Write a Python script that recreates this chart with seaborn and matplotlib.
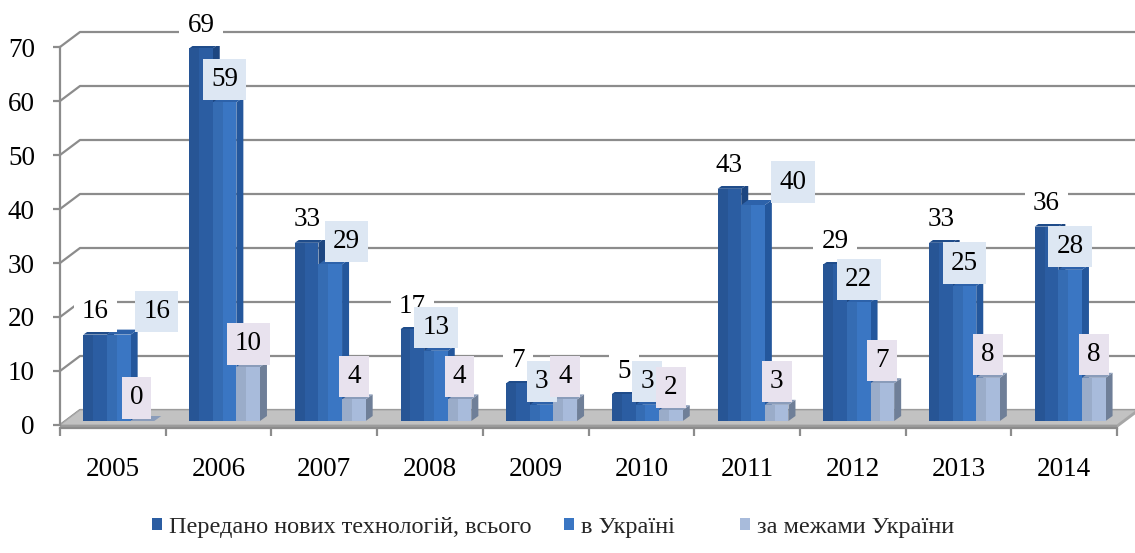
import matplotlib
matplotlib.use("Agg")
import matplotlib.pyplot as plt
from matplotlib.patches import Polygon, Rectangle
import pandas as pd
import seaborn as sns

# ---- data -------------------------------------------------------------
years = ["2005", "2006", "2007", "2008", "2009", "2010", "2011", "2012", "2013", "2014"]
total = [16, 69, 33, 17, 7, 5, 43, 29, 33, 36]
in_ukraine = [16, 59, 29, 13, 3, 3, 40, 22, 25, 28]
abroad = [0, 10, 4, 4, 4, 2, 3, 7, 8, 8]
series_names = ["Передано нових технологій, всього", "в Україні", "за межами України"]
y_ticks = [0, 10, 20, 30, 40, 50, 60, 70]

# ---- style ------------------------------------------------------------
front_colors = ["#2b5da2", "#3a76c3", "#a8bbdb"]
side_colors = ["#1d4680", "#24579c", "#6f7f98"]
top_colors = ["#1f4c8a", "#2d62aa", "#8a9cba"]
label_boxes = ["white", "#dde7f3", "#e8e2ee"]
# horizontal shifts (px) for labels that would collide with a neighbour
label_shift = {(1, 0): 38, (1, 2): 16, (1, 6): 40, (2, 0): -6}
# left edge (px) of each legend entry
legend_x = [152, 564, 740]

sns.set_theme(style="white")
plt.rcParams["font.family"] = ["Liberation Serif", "DejaVu Serif"]

W, H = 1135, 553
fig = plt.figure(figsize=(W / 100, H / 100), dpi=100)
ax_left, ax_bottom, ax_w, ax_h = 60, 128, 1057, 378
ax = fig.add_axes([ax_left / W, ax_bottom / H, ax_w / W, ax_h / H])

df = pd.DataFrame({
    "year": years * 3,
    "value": total + in_ukraine + abroad,
    "series": [series_names[0]] * len(years) + [series_names[1]] * len(years)
              + [series_names[2]] * len(years),
})

sns.barplot(data=df, x="year", y="value", hue="series", hue_order=series_names,
            palette=front_colors, saturation=1, width=0.67, ax=ax,
            legend=False, linewidth=0)

ax.set_xlim(-0.5, len(years) - 0.5)
ax.set_ylim(0, 70)

# pixel -> data unit conversions
ux = len(years) / ax_w
uy = 70 / ax_h

# perspective offsets
wall_dx, wall_dy = 20 * ux, 15 * uy      # back wall
bar_dx, bar_dy = 7 * ux, 5 * uy          # bar depth
shift_x, shift_y = 6 * ux, 4 * uy        # bars sit slightly behind the front edge

# back wall gridlines and their diagonals to the front axis
x0, x1 = -0.5, len(years) - 0.5
for v in y_ticks:
    ax.plot([x0, x0 + wall_dx, x1 + wall_dx + 0.3], [v, v + wall_dy, v + wall_dy],
            color="#8c8c8c", lw=1.6, zorder=1, clip_on=False, solid_capstyle="butt")

# floor
ax.add_patch(Polygon([(x0, 0), (x1, 0), (x1 + wall_dx, wall_dy), (x0 + wall_dx, wall_dy)],
                     closed=True, facecolor="#c2c2c2", edgecolor="#a8a8a8", lw=0.8,
                     zorder=1.5, clip_on=False))
ax.add_patch(Rectangle((x0, -3 * uy), x1 - x0, 3 * uy, facecolor="#9c9c9c",
                       edgecolor="none", zorder=1.6, clip_on=False))
ax.add_patch(Polygon([(x1, -3 * uy), (x1 + wall_dx, wall_dy - 3 * uy),
                      (x1 + wall_dx, wall_dy), (x1, 0)],
                     closed=True, facecolor="#a6a6a6", edgecolor="none",
                     zorder=1.6, clip_on=False))

# 3-D sides, tops and value labels for each series
for k, container in enumerate(ax.containers):
    for i, bar in enumerate(container.patches):
        bar.set_x(bar.get_x() + shift_x)
        bar.set_y(shift_y)
        bar.set_zorder(4 + 2 * k)
        bx, bw, bh = bar.get_x(), bar.get_width(), bar.get_height()
        by = shift_y
        side = Polygon([(bx + bw, by), (bx + bw + bar_dx, by + bar_dy),
                        (bx + bw + bar_dx, by + bh + bar_dy), (bx + bw, by + bh)],
                       closed=True, facecolor=side_colors[k], edgecolor="none",
                       zorder=3 + 2 * k, clip_on=False)
        top = Polygon([(bx, by + bh), (bx + bar_dx, by + bh + bar_dy),
                       (bx + bw + bar_dx, by + bh + bar_dy), (bx + bw, by + bh)],
                      closed=True, facecolor=top_colors[k], edgecolor="none",
                      zorder=3 + 2 * k, clip_on=False)
        ax.add_patch(side)
        ax.add_patch(top)
        # darker strip on the left of the front face
        ax.add_patch(Rectangle((bx, by), bw * 0.42, bh, facecolor="black", alpha=0.08,
                               edgecolor="none", zorder=4 + 2 * k, clip_on=False))

        value = [total, in_ukraine, abroad][k][i]
        dx_px = label_shift.get((k, i), 0)
        ax.annotate(f"{value}", xy=(bx + bw / 2, by + bh), xytext=(dx_px * 0.72, 23 * 0.72),
                    textcoords="offset points", ha="center", va="center",
                    fontsize=19.5, color="black", zorder=20 + k, annotation_clip=False,
                    bbox=dict(boxstyle="square,pad=0.3", facecolor=label_boxes[k],
                              edgecolor="none"))

# axes, ticks and labels
for s in ["top", "right"]:
    ax.spines[s].set_visible(False)
for s in ["left", "bottom"]:
    ax.spines[s].set_color("#8c8c8c")
    ax.spines[s].set_linewidth(1.6)
ax.spines["bottom"].set_position(("data", -3 * uy))
ax.spines["bottom"].set_zorder(2)

ax.set_yticks(y_ticks)
ax.set_yticklabels([str(v) for v in y_ticks])
ax.tick_params(axis="y", which="major", left=True, length=5, width=1.6, color="#8c8c8c",
               labelsize=19.5, pad=13, labelcolor="black")
ax.set_xticks(range(len(years)))
ax.set_xticklabels(years)
ax.set_xticks([i - 0.5 for i in range(len(years) + 1)], minor=True)
ax.tick_params(axis="x", which="major", bottom=True, length=0, labelsize=19.5, pad=21,
               labelcolor="black")
ax.tick_params(axis="x", which="minor", bottom=True, length=6, width=1.6, color="#8c8c8c")
ax.set_xlabel("")
ax.set_ylabel("")
ax.grid(False)

# legend: one entry per series, laid out along the bottom
for name, color, lx in zip(series_names, front_colors, legend_x):
    handle = Rectangle((0, 0), 1, 1, facecolor=color, edgecolor="none")
    fig.legend([handle], [name], loc="center left", bbox_to_anchor=(lx / W, 1 - 527 / H),
               frameon=False, fontsize=17.5, handlelength=0.4, handleheight=0.4,
               handletextpad=0.3, borderpad=0, borderaxespad=0)

fig.savefig("out.png", dpi=100)
